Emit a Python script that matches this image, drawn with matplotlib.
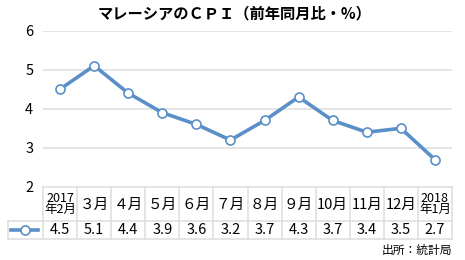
import matplotlib
matplotlib.use("Agg")
import matplotlib.pyplot as plt
from matplotlib.lines import Line2D

plt.rcParams['font.family'] = ['Noto Sans CJK JP', 'DejaVu Sans']

# data
months = ["2017\n年2月", "３月", "４月", "５月", "６月", "７月", "８月",
          "９月", "10月", "11月", "12月", "2018\n年1月"]
cpi = [4.5, 5.1, 4.4, 3.9, 3.6, 3.2, 3.7, 4.3, 3.7, 3.4, 3.5, 2.7]
yticks = [2, 3, 4, 5, 6]

line_color = '#5a8fc8'
grid_color = '#dcdcdc'

W, H = 465, 260
fig = plt.figure(figsize=(W / 100, H / 100), dpi=100)

# axes box in pixels
left, right, top, bottom = 43, 452, 30.5, 187
ax = fig.add_axes([left / W, 1 - bottom / H, (right - left) / W, (bottom - top) / H])

x = list(range(len(cpi)))
ax.plot(x, cpi, color=line_color, lw=2.6, marker='o', ms=6.5,
        mfc='white', mec=line_color, mew=1.2, zorder=3, clip_on=False)

ax.set_xlim(-0.5, len(cpi) - 0.5)
ax.set_ylim(2, 6)
ax.set_yticks(yticks)
ax.set_yticklabels([str(v) for v in yticks], fontsize=10.5)
ax.tick_params(axis='y', length=0, pad=7)
ax.set_xticks([])
for v in yticks[1:]:
    ax.axhline(v, color=grid_color, lw=1.1, zorder=1)
for s in ax.spines.values():
    s.set_visible(False)

# table under the chart
def px(xp, yp):
    return (xp / W, 1 - yp / H)

row1, row2, row3 = 187, 220.5, 239
tab_left = 8
col_w = (right - left) / len(cpi)

def hline(y, x0, x1):
    fig.add_artist(Line2D([x0 / W, x1 / W], [1 - y / H, 1 - y / H],
                          color=grid_color, lw=1.1))

def vline(xp, y0, y1):
    fig.add_artist(Line2D([xp / W, xp / W], [1 - y0 / H, 1 - y1 / H],
                          color=grid_color, lw=1.1))

hline(row1, left, right)
hline(row2, tab_left, right)
hline(row3, tab_left, right)
vline(tab_left, row2, row3)
for i in range(len(cpi) + 1):
    vline(left + i * col_w, row1, row3)

for i, (m, v) in enumerate(zip(months, cpi)):
    cx = left + (i + 0.5) * col_w
    if "\n" in m:
        fig.text(*px(cx, (row1 + row2) / 2 + 0.5), m, ha='center', va='center',
                 fontsize=9, linespacing=0.8)
    else:
        fig.text(*px(cx, (row1 + row2) / 2 + 1), m, ha='center', va='center',
                 fontsize=10.5)
    fig.text(*px(cx, (row2 + row3) / 2 + 0.5), f"{v:.1f}", ha='center',
             va='center', fontsize=10.5)

# legend key in first cell
ly = (row2 + row3) / 2
fig.add_artist(Line2D([11 / W, 38 / W], [1 - ly / H, 1 - ly / H],
                      color=line_color, lw=2.6))
fig.add_artist(Line2D([24.5 / W], [1 - ly / H], color=line_color, marker='o',
                      ms=6.5, mfc='white', mec=line_color, mew=1.2))

fig.text(*px(235, 13), "マレーシアのＣＰＩ（前年同月比・%）", ha='center',
         va='center', fontsize=11, fontweight='bold')
fig.text(*px(452, 250), "出所：統計局", ha='right', va='center', fontsize=8.5)

fig.savefig("out.png", dpi=100)
